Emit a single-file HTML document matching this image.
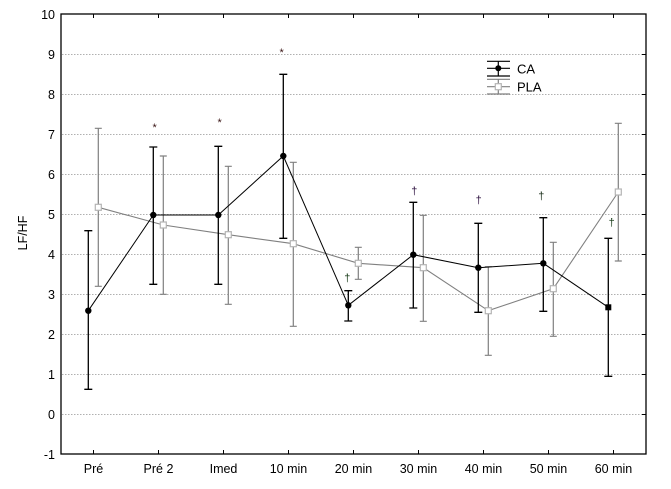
<!DOCTYPE html>
<html><head><meta charset="utf-8"><style>
html,body{margin:0;padding:0;background:#fff;}
svg{display:block;}
text{font-family:"Liberation Sans",Arial,sans-serif;}
</style></head><body>
<svg width="671" height="489" viewBox="0 0 671 489" xmlns="http://www.w3.org/2000/svg">
<rect width="671" height="489" fill="#fff"/>
<!-- grid -->
<g stroke="#b0b0b0" stroke-width="1" stroke-dasharray="1.5,1.5">
<line x1="62" y1="54.5" x2="645" y2="54.5"/>
<line x1="62" y1="94.5" x2="645" y2="94.5"/>
<line x1="62" y1="134.5" x2="645" y2="134.5"/>
<line x1="62" y1="174.5" x2="645" y2="174.5"/>
<line x1="62" y1="214.5" x2="645" y2="214.5"/>
<line x1="62" y1="254.5" x2="645" y2="254.5"/>
<line x1="62" y1="294.5" x2="645" y2="294.5"/>
<line x1="62" y1="334.5" x2="645" y2="334.5"/>
<line x1="62" y1="374.5" x2="645" y2="374.5"/>
<line x1="62" y1="414.5" x2="645" y2="414.5"/>
</g>
<!-- frame -->
<rect x="61" y="14" width="585" height="440" fill="none" stroke="#000" stroke-width="1.3"/>
<!-- ticks -->
<g stroke="#000" stroke-width="1">
<path d="M93.5 14v4M158.5 14v4M223.5 14v4M288.5 14v4M353.5 14v4M418.5 14v4M483.5 14v4M548.5 14v4M613.5 14v4"/>
<path d="M93.5 454v-4M158.5 454v-4M223.5 454v-4M288.5 454v-4M353.5 454v-4M418.5 454v-4M483.5 454v-4M548.5 454v-4M613.5 454v-4"/>
<path d="M646 54.5h-4M646 94.5h-4M646 134.5h-4M646 174.5h-4M646 214.5h-4M646 254.5h-4M646 294.5h-4M646 334.5h-4M646 374.5h-4M646 414.5h-4"/>
</g>
<!-- y labels -->
<g font-size="12.5" text-anchor="end" fill="#000">
<text x="55" y="19">10</text>
<text x="55" y="59">9</text>
<text x="55" y="99">8</text>
<text x="55" y="139">7</text>
<text x="55" y="179">6</text>
<text x="55" y="219">5</text>
<text x="55" y="259">4</text>
<text x="55" y="299">3</text>
<text x="55" y="339">2</text>
<text x="55" y="379">1</text>
<text x="55" y="419">0</text>
<text x="55" y="459">-1</text>
</g>
<!-- x labels -->
<g font-size="12.5" text-anchor="middle" fill="#000">
<text x="93.5" y="473">Pré</text>
<text x="158.5" y="473">Pré 2</text>
<text x="223.5" y="473">Imed</text>
<text x="288.5" y="473">10 min</text>
<text x="353.5" y="473">20 min</text>
<text x="418.5" y="473">30 min</text>
<text x="483.5" y="473">40 min</text>
<text x="548.5" y="473">50 min</text>
<text x="613.5" y="473">60 min</text>
</g>
<text x="27" y="233" font-size="12.5" text-anchor="middle" transform="rotate(-90 27 233)">LF/HF</text>

<!-- PLA series -->
<g stroke="#808080" stroke-width="1.2" fill="none">
<polyline stroke-width="1.1" points="98.3,207.3 163.3,225 228.3,234.7 293.3,243.7 358.3,263.3 423.3,267.7 488.3,310.7 553.3,288.7 618.3,192"/>
<path d="M98.3 128.3V286.3M94.8 128.3h7M94.8 286.3h7"/>
<path d="M163.3 156V294.3M159.8 156h7M159.8 294.3h7"/>
<path d="M228.3 166.3V304.3M224.8 166.3h7M224.8 304.3h7"/>
<path d="M293.3 162.3V326.3M289.8 162.3h7M289.8 326.3h7"/>
<path d="M358.3 247.3V279.3M354.8 247.3h7M354.8 279.3h7"/>
<path d="M423.3 215.3V321.3M419.8 215.3h7M419.8 321.3h7"/>
<path d="M488.3 266.7V355.3M484.8 266.7h7M484.8 355.3h7"/>
<path d="M553.3 242.3V336.3M549.8 242.3h7M549.8 336.3h7"/>
<path d="M618.3 123.3V261M614.8 123.3h7M614.8 261h7"/>
</g>
<g fill="#fff" stroke="#b4b4b4" stroke-width="1.2">
<rect x="95.3" y="204.3" width="6" height="6"/>
<rect x="160.3" y="222" width="6" height="6"/>
<rect x="225.3" y="231.7" width="6" height="6"/>
<rect x="290.3" y="240.7" width="6" height="6"/>
<rect x="355.3" y="260.3" width="6" height="6"/>
<rect x="420.3" y="264.7" width="6" height="6"/>
<rect x="485.3" y="307.7" width="6" height="6"/>
<rect x="550.3" y="285.7" width="6" height="6"/>
<rect x="615.3" y="189" width="6" height="6"/>
</g>

<!-- CA series -->
<g stroke="#000" stroke-width="1.3" fill="none">
<polyline stroke-width="1" points="88.3,310.7 153.3,215 218.3,215 283.3,156 348.3,305.3 413.3,254.7 478.3,267.7 543.3,263.3 608.3,307.3"/>
<path d="M88.3 230.7V389.3M84.3 230.7h8M84.3 389.3h8"/>
<path d="M153.3 147V284.3M149.3 147h8M149.3 284.3h8"/>
<path d="M218.3 146.3V284.3M214.3 146.3h8M214.3 284.3h8"/>
<path d="M283.3 74.3V238.3M279.3 74.3h8M279.3 238.3h8"/>
<path d="M348.3 290.7V321M344.3 290.7h8M344.3 321h8"/>
<path d="M413.3 202.3V308M409.3 202.3h8M409.3 308h8"/>
<path d="M478.3 223.3V312.3M474.3 223.3h8M474.3 312.3h8"/>
<path d="M543.3 217.7V311.3M539.3 217.7h8M539.3 311.3h8"/>
<path d="M608.3 238.3V376.3M604.3 238.3h8M604.3 376.3h8"/>
</g>
<g fill="#000">
<circle cx="88.3" cy="310.7" r="3.2"/>
<circle cx="153.3" cy="215" r="3.2"/>
<circle cx="218.3" cy="215" r="3.2"/>
<circle cx="283.3" cy="156" r="3.2"/>
<circle cx="348.3" cy="305.3" r="3.2"/>
<circle cx="413.3" cy="254.7" r="3.2"/>
<circle cx="478.3" cy="267.7" r="3.2"/>
<circle cx="543.3" cy="263.3" r="3.2"/>
<rect x="605.3" y="304.3" width="6" height="6"/>
</g>

<!-- annotations -->
<g font-size="11" text-anchor="middle">
<text x="154.7" y="131" fill="#3a1414">*</text>
<text x="219.7" y="126" fill="#3a1414">*</text>
<text x="281.7" y="56" fill="#3a1414">*</text>
<text x="347.3" y="281.5" fill="#173a17">†</text>
<text x="414.3" y="194.5" fill="#2e1240">†</text>
<text x="478.7" y="203.5" fill="#2e1240">†</text>
<text x="541.3" y="199.5" fill="#1a2e1a">†</text>
<text x="611.7" y="226" fill="#173a17">†</text>
</g>

<!-- legend -->
<g stroke="#000" stroke-width="1.2">
<path d="M487 61.3h23M487 68.3h23M487 76h23M498.3 61.3V76"/>
</g>
<circle cx="498.3" cy="68.3" r="3" fill="#000"/>
<g stroke="#808080" stroke-width="1.2">
<path d="M487 79.3h23M487 86.7h23M487 94h23M498.3 79.3V94"/>
</g>
<rect x="495.3" y="83.7" width="6" height="6" fill="#fff" stroke="#b4b4b4" stroke-width="1.2"/>
<text x="517" y="73.5" font-size="13" fill="#000">CA</text>
<text x="517" y="91.5" font-size="13" fill="#000">PLA</text>
</svg>
</body></html>
